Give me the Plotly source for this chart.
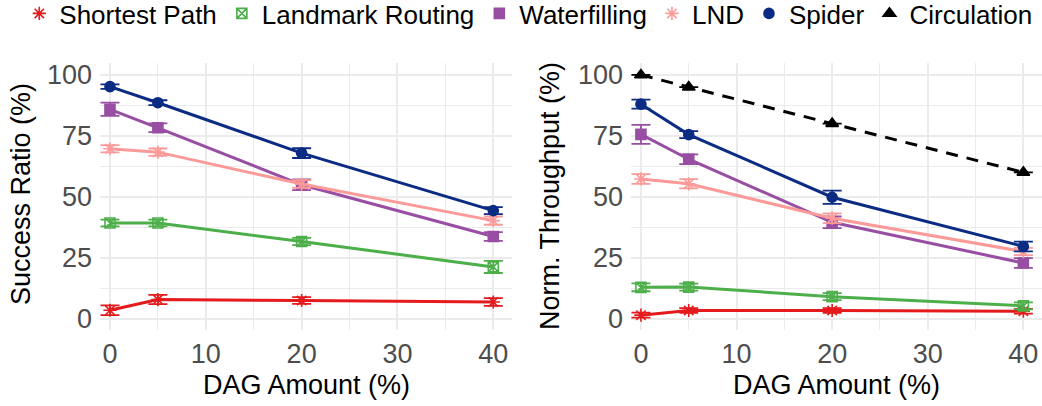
import plotly.graph_objects as go

dag = [0, 5, 20, 40]

series = ["Shortest Path", "Landmark Routing", "Waterfilling", "LND", "Spider", "Circulation"]

# Success Ratio (%)
sr_shortest = [3.4, 7.8, 7.4, 6.8]
sr_landmark = [39.2, 39.2, 31.6, 21.2]
sr_water = [85.9, 78.3, 54.9, 33.7]
sr_lnd = [69.7, 68.3, 55.2, 40.2]
sr_spider = [95.2, 88.6, 67.9, 44.3]

sr_shortest_err = [2.0, 1.9, 1.4, 1.6]
sr_landmark_err = [1.4, 1.4, 1.5, 2.5]
sr_water_err = [2.7, 1.8, 2.2, 1.8]
sr_lnd_err = [1.5, 1.5, 1.6, 1.7]
sr_spider_err = [0.9, 1.0, 2.0, 1.4]

# Normalized Throughput (%)
th_shortest = [1.4, 3.3, 3.3, 3.0]
th_landmark = [12.8, 12.9, 9.0, 5.2]
th_water = [75.6, 65.4, 39.5, 22.8]
th_lnd = [57.3, 55.3, 41.2, 27.5]
th_spider = [88.0, 75.5, 49.8, 29.6]
th_circ = [100.0, 95.0, 80.0, 60.0]

th_shortest_err = [1.0, 1.0, 1.0, 1.0]
th_landmark_err = [1.6, 1.4, 1.4, 1.4]
th_water_err = [3.9, 2.0, 2.4, 2.0]
th_lnd_err = [2.0, 1.9, 2.0, 1.5]
th_spider_err = [1.85, 1.4, 2.7, 2.0]
th_circ_err = [0.0, 0.0, 0.0, 0.0]

x_ticks = [0, 10, 20, 30, 40]
y_ticks = [0, 25, 50, 75, 100]

colors = {
    "Shortest Path": "#E41A1C",
    "Landmark Routing": "#4DAF4A",
    "Waterfilling": "#984EA3",
    "LND": "#FB9A99",
    "Spider": "#0C2C84",
    "Circulation": "#000000",
}
symbols = {
    "Shortest Path": "asterisk-open",
    "Landmark Routing": "square-x-open",
    "Waterfilling": "square",
    "LND": "asterisk-open",
    "Spider": "circle",
    "Circulation": "triangle-up",
}
msize = {
    "Shortest Path": 11,
    "Landmark Routing": 10,
    "Waterfilling": 10,
    "LND": 11,
    "Spider": 10,
    "Circulation": 11,
}

left = [
    ("Shortest Path", sr_shortest, sr_shortest_err),
    ("Landmark Routing", sr_landmark, sr_landmark_err),
    ("Waterfilling", sr_water, sr_water_err),
    ("LND", sr_lnd, sr_lnd_err),
    ("Spider", sr_spider, sr_spider_err),
]
right = [
    ("Shortest Path", th_shortest, th_shortest_err),
    ("Landmark Routing", th_landmark, th_landmark_err),
    ("Waterfilling", th_water, th_water_err),
    ("LND", th_lnd, th_lnd_err),
    ("Spider", th_spider, th_spider_err),
    ("Circulation", th_circ, th_circ_err),
]

fig = go.Figure()


def add_series(name, ys, errs, xa, ya):
    c = colors[name]
    dash = "12px,9px" if name == "Circulation" else "solid"
    fig.add_trace(go.Scatter(
        x=dag, y=ys, xaxis=xa, yaxis=ya, mode="lines+markers", name=name,
        showlegend=False,
        line=dict(color=c, width=3, dash=dash),
        marker=dict(color=c, symbol=symbols[name], size=msize[name],
                    line=dict(color=c, width=1.6)),
        error_y=dict(type="data", array=errs, visible=True, color=c,
                     thickness=1.8, width=9.5),
    ))


for name, ys, errs in left:
    add_series(name, ys, errs, "x", "y")
for name, ys, errs in right:
    add_series(name, ys, errs, "x2", "y2")

# legend-only entries (markers only, like the ggplot legend)
for name in series:
    c = colors[name]
    fig.add_trace(go.Scatter(
        x=[None], y=[None], mode="markers", name=name, showlegend=True,
        marker=dict(color=c, symbol=symbols[name], size=msize[name],
                    line=dict(color=c, width=1.6)),
    ))

# the page is shifted up by DY px (legend box has built-in top padding)
DY = 10
W, H = 1042, 406 + DY

grid = "#EBEBEB"
tickfont = dict(family="Liberation Sans, Arial, sans-serif", size=27, color="#4D4D4D")
xcommon = dict(
    range=[-1.04, 41.95], tickvals=x_ticks, showgrid=True, gridcolor=grid, gridwidth=2,
    zeroline=False, showline=False, ticks="", tickfont=tickfont, ticklabelstandoff=5,
    minor=dict(dtick=5, tick0=0, showgrid=True, gridcolor=grid, gridwidth=1.2),
    automargin=False,
)
ycommon = dict(
    range=[-4.7, 104.9], tickvals=y_ticks, showgrid=True, gridcolor=grid, gridwidth=2,
    zeroline=False, showline=False, ticks="", tickfont=tickfont, ticklabelstandoff=7,
    minor=dict(dtick=12.5, tick0=0, showgrid=True, gridcolor=grid, gridwidth=1.2),
    automargin=False,
)

ydom = [1 - (330 + DY) / H, 1 - (63 + DY) / H]
fig.update_layout(
    width=W, height=H,
    margin=dict(l=0, r=0, t=0, b=0),
    paper_bgcolor="white", plot_bgcolor="white",
    font=dict(family="Liberation Sans, Arial, sans-serif", color="black"),
    xaxis=dict(domain=[100 / W, 512 / W], anchor="y", **xcommon),
    yaxis=dict(domain=ydom, anchor="x", **ycommon),
    xaxis2=dict(domain=[631 / W, 1.0], anchor="y2", **xcommon),
    yaxis2=dict(domain=ydom, anchor="x2", **ycommon),
    legend=dict(orientation="h", x=0.507, xanchor="center", y=1.0, yanchor="top",
                font=dict(size=26, color="black"), itemwidth=30,
                bgcolor="rgba(0,0,0,0)"),
    showlegend=True,
)

title_font = dict(family="Liberation Sans, Arial, sans-serif", size=27, color="black")
annos = [
    dict(text="DAG Amount (%)", x=306 / W, y=1 - (385 + DY) / H),
    dict(text="DAG Amount (%)", x=836.5 / W, y=1 - (385 + DY) / H),
    dict(text="Success Ratio (%)", x=21 / W, y=1 - (194 + DY) / H, textangle=-90),
    dict(text="Norm. Throughput (%)", x=550 / W, y=1 - (196 + DY) / H, textangle=-90),
]
for a in annos:
    fig.add_annotation(xref="paper", yref="paper", showarrow=False,
                       xanchor="center", yanchor="middle", font=title_font, **a)

fig.write_html(
    "out.html",
    config={"displayModeBar": False},
    post_script=(
        "document.body.style.margin='0';document.body.style.padding='0';"
        "document.body.style.overflow='hidden';"
        "document.body.style.marginTop='-%dpx';" % DY
    ),
)
